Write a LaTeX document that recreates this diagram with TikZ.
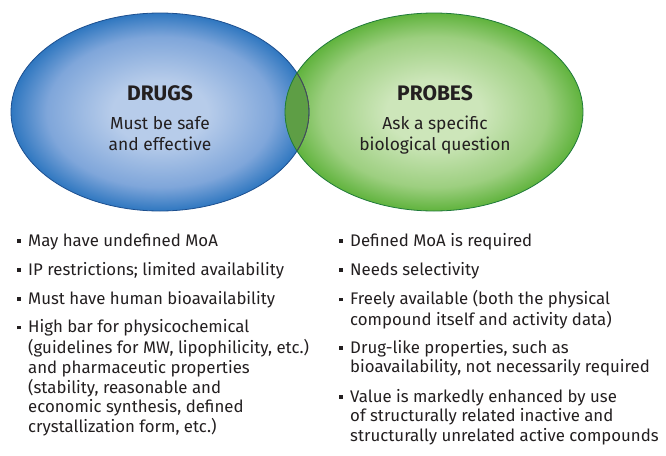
\documentclass[tikz,border=0pt]{standalone}
\usepackage{fontspec}
\setmainfont{Fira Sans}
\definecolor{txt}{HTML}{231F20}
\definecolor{bluein}{HTML}{B7CCEA}
\definecolor{bluemid}{HTML}{7FA6DA}
\definecolor{blueout}{HTML}{2F77C0}
\definecolor{blueline}{HTML}{1D4F8F}
\definecolor{greenin}{HTML}{CDE6BA}
\definecolor{greenmid}{HTML}{9DCF80}
\definecolor{greenout}{HTML}{60B33D}
\definecolor{greenline}{HTML}{1F7A3A}
\definecolor{overlap}{HTML}{5E9E45}
\pgfdeclareradialshading{blueshade}{\pgfpoint{0bp}{0bp}}{color(0bp)=(bluein); color(8bp)=(bluein); color(19bp)=(bluemid); color(25bp)=(blueout); color(50bp)=(blueout)}
\pgfdeclareradialshading{greenshade}{\pgfpoint{0bp}{0bp}}{color(0bp)=(greenin); color(8bp)=(greenin); color(19bp)=(greenmid); color(25bp)=(greenout); color(50bp)=(greenout)}
\begin{document}
\begin{tikzpicture}[x=1pt,y=-1pt,
  title/.style={font=\fontsize{21}{24}\selectfont\bfseries, text=txt, inner sep=0pt, anchor=base},
  sub/.style={font=\fontsize{17.4}{21}\selectfont, text=txt, inner sep=0pt, align=center, anchor=north},
  item/.style={font=\fontsize{16.8}{19.6}\selectfont, text=txt, inner sep=0pt, align=left, anchor=north west},
]
\useasboundingbox (0,0) rectangle (666,455);
\newcommand{\bul}{\llap{\raisebox{3.4pt}{\rule{3.8pt}{3.8pt}}\hspace{7.5pt}}\strut}
% ellipses
\shade[shading=blueshade] (160,112) ellipse [x radius=149, y radius=99];
\shade[shading=greenshade] (434,112) ellipse [x radius=149, y radius=99];
\begin{scope}
  \clip (160,112) ellipse [x radius=149, y radius=99];
  \fill[overlap] (434,112) ellipse [x radius=149, y radius=99];
\end{scope}
\draw[blueline, line width=0.8pt] (160,112) ellipse [x radius=149, y radius=99];
\begin{scope}
  \clip (434,112) ellipse [x radius=149, y radius=99];
  \draw[black!70, line width=0.8pt] (160,112) ellipse [x radius=149, y radius=99];
\end{scope}
\draw[greenline, line width=0.8pt] (434,112) ellipse [x radius=149, y radius=99];
% titles
\node[title] (dt) at (160,100) {DRUGS};
\node[sub] (ds) at (160,114.3) {\strut Must be safe\\and effective};
\node[title] (pt) at (435,100) {PROBES};
\node[sub] (ps) at (435,114.3) {\strut Ask a specific\\biological question};
% left list
\node[item] (l1) at (28,232.3) {\bul May have undefined MoA};
\node[item] (l2) at (28,261.3) {\bul IP restrictions; limited availability};
\node[item] (l3) at (28,290.3) {\bul Must have human bioavailability};
\node[item] (l4) at (28,318.8) {\bul High bar for physicochemical\\(guidelines for MW, lipophilicity, etc.)\\and pharmaceutic properties\\(stability, reasonable and\\economic synthesis, defined\\crystallization form, etc.)};
% right list
\node[item] (r1) at (350,232.3) {\bul Defined MoA is required};
\node[item] (r2) at (350,261.3) {\bul Needs selectivity};
\node[item] (r3) at (350,290.3) {\bul Freely available (both the physical\\compound itself and activity data)};
\node[item] (r4) at (350,339.3) {\bul Drug-like properties, such as\\bioavailability, not necessarily required};
\node[item] (r5) at (350,388.3) {\bul Value is markedly enhanced by use\\of structurally related inactive and\\structurally unrelated active compounds};
\end{tikzpicture}
\end{document}
